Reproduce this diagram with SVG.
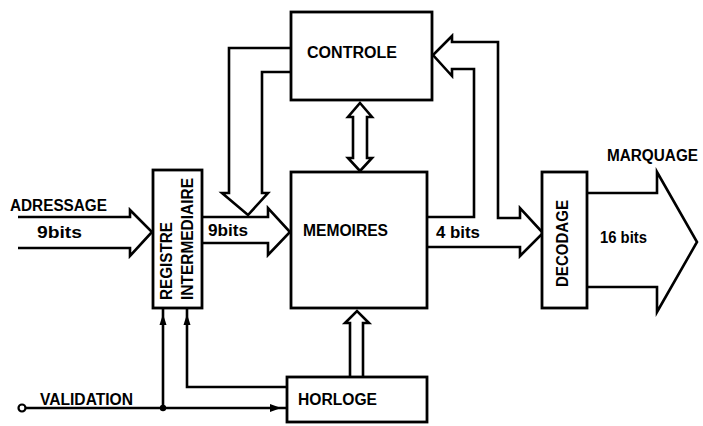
<svg xmlns="http://www.w3.org/2000/svg" width="703" height="426" viewBox="0 0 703 426">
<style>
.box{fill:#fff;stroke:#000;stroke-width:2.8}
.ln{fill:none;stroke:#000;stroke-width:2.6;stroke-linejoin:miter}
.t{font-family:"Liberation Sans",Arial,sans-serif;font-weight:bold;font-size:16px;fill:#000}
.fill{fill:#000;stroke:none}
</style>
<rect width="703" height="426" fill="#fff"/>
<g id="connectors">
<path class="ln" d="M18,217 L130,217 L130,210 L152,232 L130,256 L130,248 L18,248"/>
<path class="ln" d="M202,217 L268,217 L268,208 L290,232 L268,255 L268,243 L202,243"/>
<path class="ln" d="M291,48 L229,48 L229,193 L222,193 L248,215 L268,193 L262,193 L262,72 L291,72"/>
<path class="ln" d="M427,217 L474,217 L474,69 L452,69 L452,76 L433,55 L452,36 L452,42 L498,42 L498,218 L520,218 L520,208 L543,233 L520,256 L520,247 L427,247"/>
<path class="ln" d="M587,193 L657,193 L657,172 L697,242 L657,312 L657,287 L587,287"/>
<path class="ln" d="M360,103 L372,117 L367,117 L367,158 L372,158 L360,171 L348,158 L353,158 L353,117 L348,117 Z"/>
<path class="ln" d="M350,377 L350,323 L345,323 L357,311 L369,323 L363,323 L363,377"/>
<circle cx="22" cy="408" r="3.5" fill="#fff" stroke="#000" stroke-width="2.2"/>
<path class="ln" d="M25.5,408 L287,408"/>
<path class="ln" d="M163,408 L163,308"/>
<path class="ln" d="M287,387 L187,387 L187,308"/>
<circle class="fill" cx="163" cy="408" r="3.2"/>
<polygon class="fill" points="270,404 281,408 270,412"/>
<polygon class="fill" points="159.5,325 163,314 166.5,325"/>
<polygon class="fill" points="183.5,325 187,314 190.5,325"/>
</g>
<g id="controle">
<rect class="box" x="291" y="12" width="141" height="88"/>
<text class="t" x="307" y="58" textLength="90" lengthAdjust="spacingAndGlyphs">CONTROLE</text>
</g>
<g id="memoires">
<rect class="box" x="291" y="172" width="136" height="136"/>
<text class="t" x="303" y="236" textLength="85" lengthAdjust="spacingAndGlyphs">MEMOIRES</text>
</g>
<g id="registre">
<rect class="box" x="153" y="170" width="49" height="138"/>
<text class="t" transform="translate(171.5,300) rotate(-90)" x="0" y="0" textLength="78" lengthAdjust="spacingAndGlyphs">REGISTRE</text>
<text class="t" transform="translate(193,300) rotate(-90)" x="0" y="0" textLength="122" lengthAdjust="spacingAndGlyphs">INTERMEDIAIRE</text>
</g>
<g id="decodage">
<rect class="box" x="542" y="172" width="45" height="136"/>
<text class="t" transform="translate(567.5,287) rotate(-90)" x="0" y="0" textLength="87" lengthAdjust="spacingAndGlyphs">DECODAGE</text>
</g>
<g id="horloge">
<rect class="box" x="287" y="377" width="140" height="45"/>
<text class="t" x="298" y="404.5" textLength="79" lengthAdjust="spacingAndGlyphs">HORLOGE</text>
</g>
<g id="labels">
<text class="t" x="10" y="211" textLength="97" lengthAdjust="spacingAndGlyphs">ADRESSAGE</text>
<text class="t" x="37" y="238" textLength="45" lengthAdjust="spacingAndGlyphs">9bits</text>
<text class="t" x="208" y="236" textLength="40" lengthAdjust="spacingAndGlyphs">9bits</text>
<text class="t" x="436" y="238" textLength="44" lengthAdjust="spacingAndGlyphs">4 bits</text>
<text class="t" x="600" y="243" textLength="47" lengthAdjust="spacingAndGlyphs">16 bits</text>
<text class="t" x="607" y="161" textLength="91" lengthAdjust="spacingAndGlyphs">MARQUAGE</text>
<text class="t" x="40" y="405" textLength="93" lengthAdjust="spacingAndGlyphs">VALIDATION</text>
</g>
</svg>
